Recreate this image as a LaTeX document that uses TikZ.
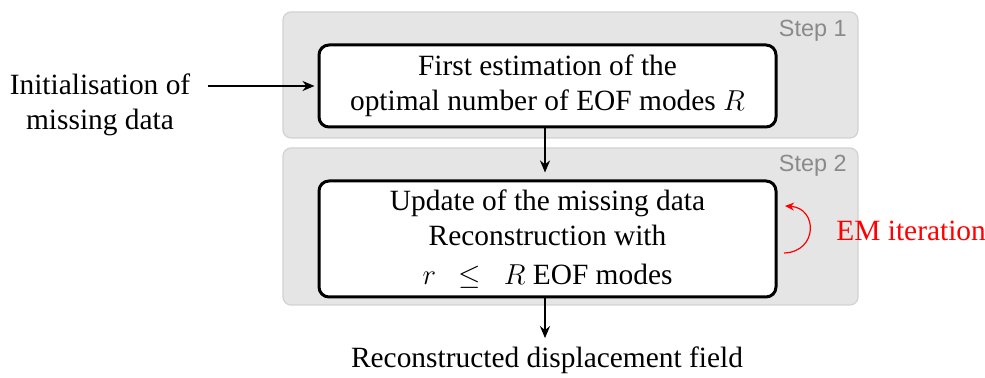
\documentclass[tikz,border=0pt]{standalone}
\usepackage{fontspec}
\setmainfont{Liberation Serif}
\newfontfamily\stepfont{Liberation Sans}
\usetikzlibrary{arrows.meta}
\definecolor{stepfill}{HTML}{E5E5E5}
\definecolor{stepline}{HTML}{D2D2D2}
\definecolor{steptext}{HTML}{8A8A8A}
\begin{document}
\begin{tikzpicture}[x=0.5pt,y=-0.5pt,
  every node/.style={font=\fontsize{14.7}{17.5}\selectfont},
  stepbg/.style={draw=stepline, line width=0.6pt, fill=stepfill, rounded corners=4pt, minimum width=287.5pt, inner sep=0pt},
  proc/.style={draw=black, line width=1.5pt, fill=white, rounded corners=5pt, minimum width=228.5pt, align=center, inner sep=0pt},
  steplabel/.style={text=steptext, font=\stepfont\fontsize{11.7}{13}\selectfont, anchor=base east, inner sep=0pt},
  flow/.style={-{Stealth[length=6pt,width=5pt]}, line width=1pt},
  emarrow/.style={-{Stealth[length=4.5pt,width=4pt]}, red, line width=0.6pt}]
\useasboundingbox (0,0) rectangle (985,378);
% step backgrounds
\node[stepbg, minimum height=63pt] (step1) at (570.5,75) {};
\node[stepbg, minimum height=78.5pt] (step2) at (570.5,226.5) {};
\node[steplabel] (s1lab) at (847,37) {Step 1};
\node[steplabel] (s2lab) at (847,172) {Step 2};
% process boxes
\node[proc, minimum height=41pt] (box1) at (547.5,86) {First estimation of the\\optimal number of EOF modes $R$};
\node[proc, minimum height=58pt] (box2) at (547.5,239) {Update of the missing data\\Reconstruction with\\[2pt]$r\ \ \leq\ \ R$ EOF modes};
% input / output
\node[align=center, inner xsep=8.5pt, inner ysep=0pt] (input) at (100,105) {Initialisation of\\missing data};
\node[inner sep=0pt] (output) at (547,360) {Reconstructed displacement field};
% connectors
\draw[flow, shorten >=1.5pt] (input.east |- box1.west) -- (box1.west);
\draw[flow, shorten >=3.5pt] ([xshift=-1.25pt]box1.south) -- ([xshift=-1.25pt]box2.north);
\draw[flow, shorten >=4pt] ([xshift=-1.25pt]box2.south) -- ([xshift=-1.25pt]box2.south |- output.north);
% EM iteration
\coordinate (emA) at (784,253);
\coordinate (emB) at (785,206);
\draw[emarrow] (emA) .. controls (818,252) and (818,208) .. (emB);
\node[text=red, anchor=west, inner sep=0pt] (em) at (836,231) {EM iteration};
\end{tikzpicture}
\end{document}
